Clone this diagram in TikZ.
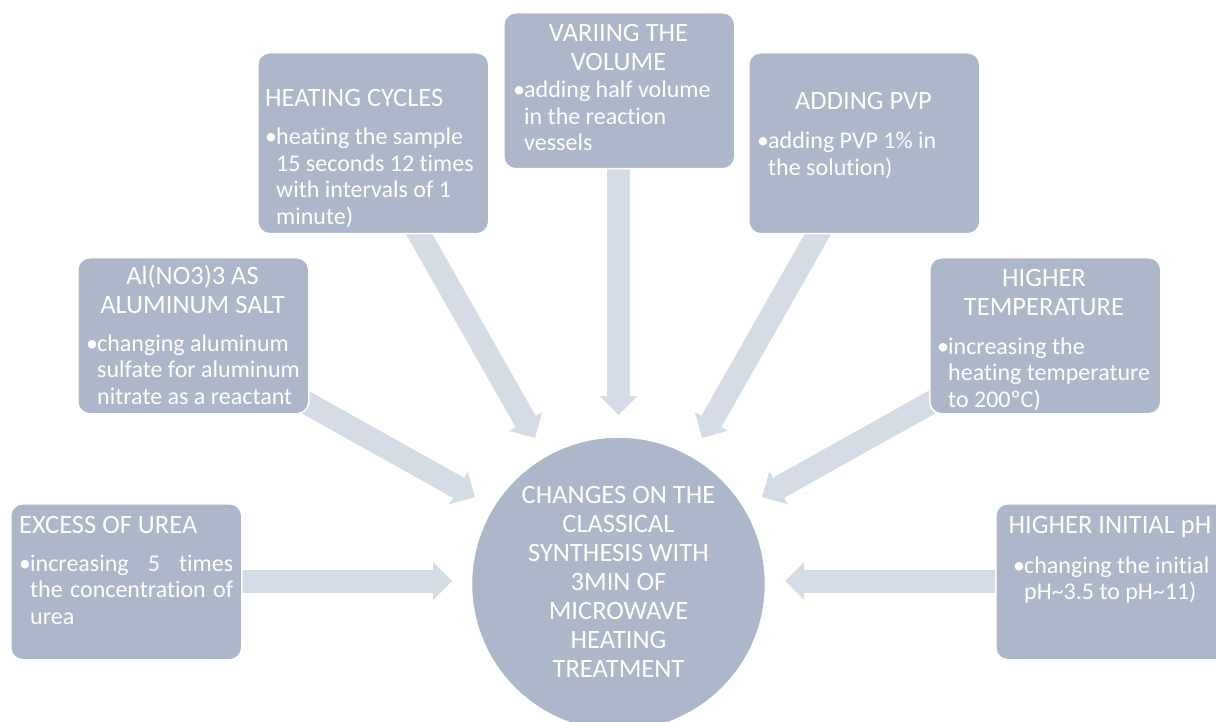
\documentclass[tikz,border=0pt]{standalone}
\usepackage{fontspec}
\setmainfont{Carlito}[Ligatures=NoCommon]
\usetikzlibrary{arrows.meta,backgrounds}
\definecolor{boxc}{RGB}{172,183,202}
\definecolor{arrc}{RGB}{214,220,230}
\tikzset{
  box/.style={draw=white, line width=1.5pt, fill=boxc, rounded corners=12pt,
    minimum width=231pt, minimum height=156pt, anchor=north west, inner sep=0pt},
  ttl/.style={text=white, font=\fontsize{26.5}{29}\selectfont, inner sep=0pt, align=center, anchor=base},
  bul/.style={text=white, font=\fontsize{24}{26.5}\selectfont, inner sep=0pt, align=left, anchor=base west},
  bigarrow/.style={draw=arrc, line width=23pt,
    -{Triangle[width=38pt,length=19pt,line width=0pt]}},
}
\newcommand{\bl}{\makebox[11pt][l]{•}}
\newcommand{\ind}{\hspace*{11pt}}
\begin{document}
\begin{tikzpicture}[x=1pt,y=-1pt]
\useasboundingbox (0,0) rectangle (1216,722);

% central circle
\node[circle, fill=boxc, draw=white, line width=1.5pt, minimum size=294pt, inner sep=0pt] (core) at (618.5,584) {};
\node[ttl] (coret) at (618.5,677) {CHANGES ON THE\\CLASSICAL\\SYNTHESIS WITH\\3MIN OF\\MICROWAVE\\HEATING\\TREATMENT};

% boxes
\node[box] (urea) at (10,503) {};
\node[box] (alno) at (77,257) {};
\node[box, minimum height=181pt] (heat) at (257,52) {};
\node[box] (vol)  at (503,12) {};
\node[box, minimum height=181pt] (pvp)  at (748,52) {};
\node[box] (temp) at (929,257) {};
\node[box] (ph)   at (995,503) {};

% arrow end points
\coordinate (a1s) at (240,581);   \coordinate (a1e) at (452,581);
\coordinate (a2s) at (296,397);   \coordinate (a2e) at (475,497);
\coordinate (a3s) at (414,225);   \coordinate (a3e) at (535,438);
\coordinate (a4s) at (618.5,165); \coordinate (a4e) at (618.5,415);
\coordinate (a5s) at (823,225);   \coordinate (a5e) at (702,438);
\coordinate (a6s) at (941,397);   \coordinate (a6e) at (762,497);
\coordinate (a7s) at (997,581);   \coordinate (a7e) at (785,581);

\begin{scope}[on background layer]
  \draw[bigarrow] (a1s) -- (a1e);
  \draw[bigarrow] (a2s) -- (a2e);
  \draw[bigarrow] (a3s) -- (a3e);
  \draw[bigarrow] (a4s) -- (a4e);
  \draw[bigarrow] (a5s) -- (a5e);
  \draw[bigarrow] (a6s) -- (a6e);
  \draw[bigarrow] (a7s) -- (a7e);
\end{scope}

% texts (anchor base = baseline of last line)
\node[ttl, anchor=base west] (ureat) at (19,533) {EXCESS OF UREA};
\node[bul] (ureab) at (19,624) {\bl\makebox[203pt][s]{increasing 5 times}\\\ind\makebox[203pt][s]{the concentration of}\\\ind urea};

\node[ttl] (alnot) at (192.5,313) {Al(NO3)3 AS\\ALUMINUM SALT};
\node[bul] (alnob) at (86,404) {\bl changing aluminum\\\ind sulfate for aluminum\\\ind nitrate as a reactant};

\node[ttl, anchor=base west] (heatt) at (265,107) {HEATING CYCLES};
\node[bul] (heatb) at (265,224.5) {\bl heating the sample\\\ind 15 seconds 12 times\\\ind with intervals of 1\\\ind minute)};

\node[ttl] (volt) at (618.5,71) {VARIING THE\\VOLUME};
\node[bul] (volb) at (513,151) {\bl adding half volume\\\ind in the reaction\\\ind vessels};

\node[ttl] (pvpt) at (863.5,110) {ADDING PVP};
\node[bul] (pvpb) at (757,175.5) {\bl adding PVP 1\% in\\\ind the solution)};

\node[ttl] (tempt) at (1044,316) {HIGHER\\TEMPERATURE};
\node[bul] (tempb) at (937,407) {\bl increasing the\\\ind heating temperature\\\ind to 200ºC)};

\node[ttl] (pht) at (1110,533) {HIGHER INITIAL pH};
\node[bul] (phb) at (1013,599.5) {\bl changing the initial\\\ind pH\textasciitilde3.5 to pH\textasciitilde11)};
\end{tikzpicture}
\end{document}
